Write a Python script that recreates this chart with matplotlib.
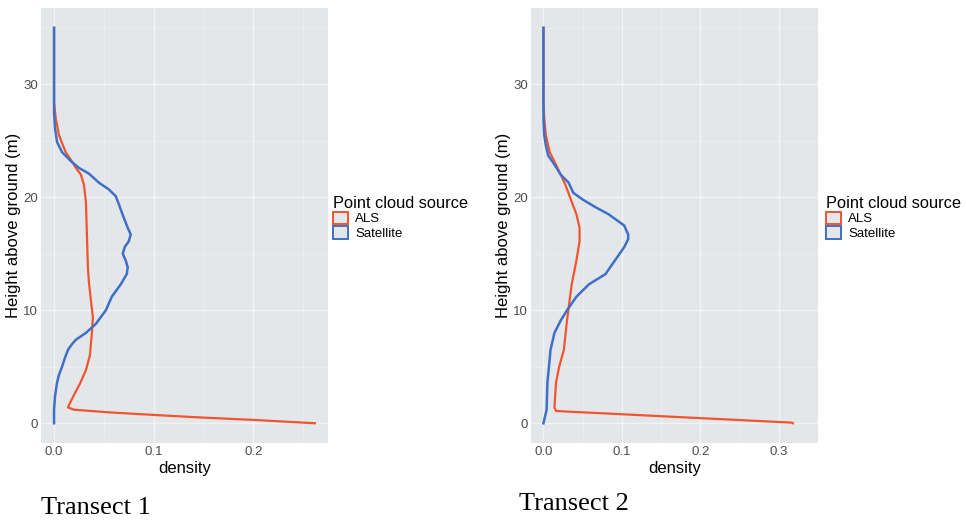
import matplotlib
matplotlib.use("Agg")
import matplotlib.pyplot as plt
import matplotlib.patches as mpatches

# Transect 1 (density, height in m)
t1_als_h = [0, 0.3, 0.5, 0.7, 0.95, 1.2, 1.4, 1.8, 2.5, 3.5, 4.7, 6.0, 8.0, 9.4, 10.9, 12.5,
            13.8, 16.7, 19.6, 21.1, 22.0, 22.6, 23.3, 24.0, 24.8, 25.5, 27.0, 28.4, 35]
t1_als_d = [0.262, 0.20, 0.15, 0.108, 0.058, 0.02, 0.014, 0.016, 0.02, 0.026, 0.032, 0.036,
            0.038, 0.039, 0.037, 0.035, 0.034, 0.033, 0.032, 0.030, 0.027, 0.022, 0.017,
            0.0117, 0.008, 0.005, 0.0017, 0.0, 0.0]
t1_sat_h = [0, 1.2, 2.4, 3.0, 3.6, 4.3, 5.0, 5.8, 6.5, 7.0, 7.4, 8.0, 8.8, 10.0, 11.2, 12.3,
            13.2, 13.8, 14.4, 15.0, 15.6, 16.1, 16.7, 17.3, 18.2, 19.4, 20.1, 20.7, 21.3,
            22.1, 22.6, 23.2, 24.0, 24.9, 26.1, 27.5, 35]
t1_sat_d = [0.0, 0.0, 0.001, 0.002, 0.003, 0.005, 0.008, 0.011, 0.014, 0.018, 0.022, 0.032,
            0.042, 0.052, 0.058, 0.067, 0.073, 0.074, 0.072, 0.069, 0.071, 0.075, 0.077,
            0.074, 0.070, 0.065, 0.062, 0.055, 0.045, 0.035, 0.025, 0.017, 0.008, 0.003,
            0.001, 0.0, 0.0]

# Transect 2
t2_als_h = [0, 0.06, 0.42, 0.64, 0.86, 1.0, 1.09, 1.4, 2.5, 3.6, 5.0, 6.5, 9.1, 12.3, 14.4,
            16.1, 17.3, 18.5, 19.6, 21.1, 22.6, 24.0, 25.5, 27.0, 28.4, 35]
t2_als_d = [0.318, 0.316, 0.21, 0.146, 0.082, 0.04, 0.016, 0.014, 0.015, 0.016, 0.02, 0.026,
            0.030, 0.036, 0.042, 0.046, 0.046, 0.042, 0.036, 0.028, 0.018, 0.008, 0.003,
            0.001, 0.0, 0.0]
t2_sat_h = [0, 0.6, 1.2, 2.4, 3.6, 5.0, 6.5, 8.0, 9.1, 10.0, 11.2, 12.3, 13.2, 14.4, 15.6,
            16.3, 16.7, 17.5, 17.9, 18.5, 19.1, 19.8, 20.4, 21.3, 22.0, 22.9, 23.7, 24.6,
            25.5, 27.0, 35]
t2_sat_d = [0.0, 0.002, 0.004, 0.0045, 0.005, 0.007, 0.009, 0.014, 0.022, 0.030, 0.042,
            0.058, 0.079, 0.091, 0.103, 0.108, 0.108, 0.103, 0.095, 0.083, 0.067, 0.050,
            0.038, 0.032, 0.022, 0.014, 0.006, 0.003, 0.001, 0.0, 0.0]

y_ticks = [0, 10, 20, 30]
t1_x_ticks = [0.0, 0.1, 0.2]
t2_x_ticks = [0.0, 0.1, 0.2, 0.3]
sources = ["ALS", "Satellite"]
captions = ["Transect 1", "Transect 2"]

RED = "#F2542D"
BLUE = "#3F6FC6"
BG = "#E4E7EA"
SANS = "Liberation Sans"

fig = plt.figure(figsize=(9.66, 5.2), dpi=100)


def panel(left, als_h, als_d, sat_h, sat_d, xticks, legend_x):
    ax = fig.add_axes([left, 0.148, 0.2971, 0.8365])
    ax.set_facecolor(BG)
    for s in ax.spines.values():
        s.set_visible(False)
    ax.plot(als_d, als_h, color=RED, lw=1.6, zorder=3)
    ax.plot(sat_d, sat_h, color=BLUE, lw=1.8, zorder=3)

    xmax = max(max(als_d), max(sat_d))
    ax.set_xlim(-0.05 * xmax, 1.05 * xmax)
    ax.set_ylim(-1.75, 36.75)
    ax.set_yticks(y_ticks)
    ax.set_xticks(xticks)
    ax.set_xticklabels([f"{v:.1f}" for v in xticks])
    ax.set_yticks([5, 15, 25, 35], minor=True)
    ax.set_xticks([v + 0.05 for v in xticks], minor=True)
    ax.grid(which="major", color="white", lw=1.0, alpha=0.5)
    ax.grid(which="minor", color="white", lw=0.5, alpha=0.35)
    ax.set_axisbelow(True)
    ax.tick_params(which="major", length=0, labelsize=9.5,
                   labelcolor="#4D4D4D", pad=2)
    ax.tick_params(which="minor", length=0)
    for lab in ax.get_xticklabels() + ax.get_yticklabels():
        lab.set_family(SANS)
    ax.set_xlabel("density", fontsize=12, family=SANS, labelpad=2)
    ax.set_ylabel("Height above ground (m)", fontsize=12, family=SANS, labelpad=2)

    handles = [mpatches.Patch(facecolor=BG, edgecolor=c, lw=1.4, label=s)
               for c, s in zip([RED, BLUE], sources)]
    ax.legend(handles=handles, title="Point cloud source", loc="upper left",
              bbox_to_anchor=(legend_x, 1 - 196 / 520), bbox_transform=fig.transFigure,
              frameon=False, handlelength=1.1, handleheight=1.1, handletextpad=0.6,
              labelspacing=0.05, borderpad=0, borderaxespad=0,
              prop={"family": SANS, "size": 9.5},
              title_fontproperties={"family": SANS, "size": 11.8},
              alignment="left")
    return ax


panel(41 / 966, t1_als_h, t1_als_d, t1_sat_h, t1_sat_d, t1_x_ticks, 333 / 966)
panel(531 / 966, t2_als_h, t2_als_d, t2_sat_h, t2_sat_d, t2_x_ticks, 826 / 966)

fig.text(41 / 966, 1 - 514 / 520, captions[0], family="Liberation Serif", fontsize=19,
         va="baseline", ha="left")
fig.text(519 / 966, 1 - 510 / 520, captions[1], family="Liberation Serif", fontsize=19,
         va="baseline", ha="left")

fig.savefig("out.png", dpi=100, facecolor="white")
